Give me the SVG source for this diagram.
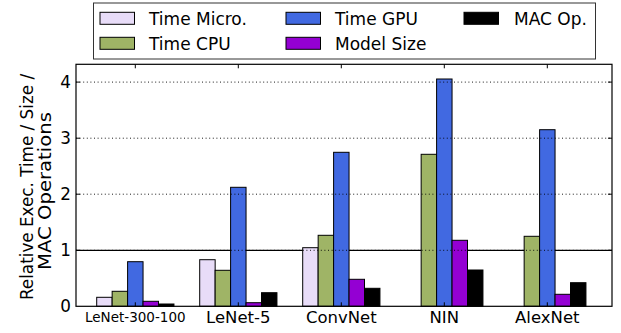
<svg xmlns="http://www.w3.org/2000/svg" width="621" height="333" viewBox="0 0 621 333">
<style>
text{font-family:"DejaVu Sans","Liberation Sans",sans-serif;fill:#000}
.lab{font-size:16.8px}
.leg{font-size:17px}
.tick{font-size:16.8px;text-anchor:end}
.xl{font-size:16.5px;text-anchor:middle}
.bar{stroke:#000;stroke-width:1}
.mi{fill:#e8dcf8}.cp{fill:#9fb466}.gp{fill:#4169e1}.ms{fill:#9400d3}.mc{fill:#000}
.grid{stroke:#000;stroke-width:0.9;stroke-dasharray:1 2.6;fill:none}
.tk{stroke:#000;stroke-width:1;fill:none}
</style>
<rect width="621" height="333" fill="#fff"/>
<line x1="76" y1="250.3" x2="612" y2="250.3" stroke="#000" stroke-width="1.2"/>
<g id="bars">
<g id="lenet300">
<rect class="bar mi" x="96.7" y="297.3" width="15.45" height="9"/>
<rect class="bar cp" x="112.15" y="291.3" width="15.45" height="15"/>
<rect class="bar gp" x="127.6" y="261.7" width="15.45" height="44.6"/>
<rect class="bar ms" x="143.05" y="301.3" width="15.45" height="5"/>
<rect class="bar mc" x="158.5" y="304" width="15.45" height="2.3"/>
</g>
<g id="lenet5">
<rect class="bar mi" x="199.7" y="259.7" width="15.45" height="46.6"/>
<rect class="bar cp" x="215.15" y="270.3" width="15.45" height="36"/>
<rect class="bar gp" x="230.6" y="187.3" width="15.45" height="119"/>
<rect class="bar ms" x="246.05" y="302.7" width="15.45" height="3.6"/>
<rect class="bar mc" x="261.5" y="292.7" width="15.45" height="13.6"/>
</g>
<g id="convnet">
<rect class="bar mi" x="302.7" y="247.7" width="15.45" height="58.6"/>
<rect class="bar cp" x="318.15" y="235.3" width="15.45" height="71"/>
<rect class="bar gp" x="333.6" y="152.3" width="15.45" height="154"/>
<rect class="bar ms" x="349.05" y="279.3" width="15.45" height="27"/>
<rect class="bar mc" x="364.5" y="288.3" width="15.45" height="18"/>
</g>
<g id="nin">
<rect class="bar cp" x="421.15" y="154.3" width="15.45" height="152"/>
<rect class="bar gp" x="436.6" y="79" width="15.45" height="227.3"/>
<rect class="bar ms" x="452.05" y="240.3" width="15.45" height="66"/>
<rect class="bar mc" x="467.5" y="270" width="15.45" height="36.3"/>
</g>
<g id="alexnet">
<rect class="bar cp" x="524.15" y="236.3" width="15.45" height="70"/>
<rect class="bar gp" x="539.6" y="129.7" width="15.45" height="176.6"/>
<rect class="bar ms" x="555.05" y="294.3" width="15.45" height="12"/>
<rect class="bar mc" x="570.5" y="282.7" width="15.45" height="23.6"/>
</g>
</g>
<g id="gridlines">
<line class="grid" x1="76" y1="250.3" x2="612" y2="250.3"/>
<line class="grid" x1="76" y1="194.2" x2="612" y2="194.2"/>
<line class="grid" x1="76" y1="138.2" x2="612" y2="138.2"/>
<line class="grid" x1="76" y1="82.1" x2="612" y2="82.1"/>
</g>
<g id="axes">
<rect x="76" y="64.3" width="536" height="242" fill="none" stroke="#000" stroke-width="1.2"/>
<path class="tk" d="M76 250.3h4M76 194.2h4M76 138.2h4M76 82.1h4M612 250.3h-4M612 194.2h-4M612 138.2h-4M612 82.1h-4M135.3 64.3v4M238.3 64.3v4M341.3 64.3v4M444.3 64.3v4M547.3 64.3v4M135.3 306.3v-4M238.3 306.3v-4M341.3 306.3v-4M444.3 306.3v-4M547.3 306.3v-4"/>
<text class="tick" x="71" y="312.3">0</text>
<text class="tick" x="71" y="256.3">1</text>
<text class="tick" x="71" y="200.2">2</text>
<text class="tick" x="71" y="144.2">3</text>
<text class="tick" x="71" y="88.1">4</text>
<text class="xl" x="135.3" y="321.7" style="font-size:13.5px">LeNet-300-100</text>
<text class="xl" x="238.3" y="323">LeNet-5</text>
<text class="xl" x="341.3" y="323">ConvNet</text>
<text class="xl" x="444.3" y="323">NIN</text>
<text class="xl" x="547.3" y="323">AlexNet</text>
<text class="lab" text-anchor="middle" transform="translate(32.5 187) rotate(-90)">Relative Exec. Time / Size /</text>
<text class="lab" text-anchor="middle" transform="translate(51 191) rotate(-90)" textLength="158" lengthAdjust="spacingAndGlyphs">MAC Operations</text>
</g>
<g id="legend">
<rect x="93.5" y="3" width="502" height="56" fill="#fff" stroke="#333" stroke-width="1"/>
<rect class="bar mi" x="100" y="12.3" width="34.5" height="12"/>
<text class="leg" x="149" y="24.5">Time Micro.</text>
<rect class="bar cp" x="100" y="37.3" width="34.5" height="12"/>
<text class="leg" x="149" y="49.5">Time CPU</text>
<rect class="bar gp" x="286" y="12.3" width="34.5" height="12"/>
<text class="leg" x="335" y="24.5">Time GPU</text>
<rect class="bar ms" x="286" y="37.3" width="34.5" height="12"/>
<text class="leg" x="335" y="49.5">Model Size</text>
<rect class="bar mc" x="464" y="12.3" width="34.5" height="12"/>
<text class="leg" x="514" y="24.5">MAC Op.</text>
</g>
</svg>
